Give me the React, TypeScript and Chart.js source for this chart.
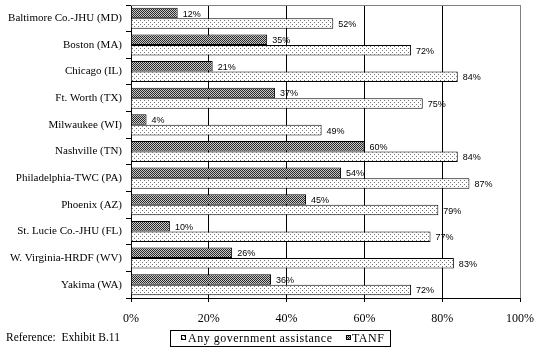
import React, { useEffect, useRef } from "react";
import { Chart, registerables } from "chart.js";

Chart.register(...registerables);

const categories = [
  "Baltimore Co.-JHU (MD)",
  "Boston (MA)",
  "Chicago (IL)",
  "Ft. Worth (TX)",
  "Milwaukee (WI)",
  "Nashville (TN)",
  "Philadelphia-TWC (PA)",
  "Phoenix (AZ)",
  "St. Lucie Co.-JHU (FL)",
  "W. Virginia-HRDF (WV)",
  "Yakima (WA)",
];
const tanfValues = [12, 35, 21, 37, 4, 60, 54, 45, 10, 26, 36];
const anyAssistValues = [52, 72, 84, 75, 49, 84, 87, 79, 77, 83, 72];
const xTicks = [0, 20, 40, 60, 80, 100];
const seriesNames = ["Any government assistance", "TANF"];
const footnote = "Reference:  Exhibit B.11";

const SERIF = "'Liberation Serif', 'Times New Roman', serif";

function makePattern(kind: "dark" | "light"): CanvasPattern | string {
  const c = document.createElement("canvas");
  const ctx = c.getContext("2d");
  if (!ctx) return kind === "dark" ? "#808080" : "#eeeeee";
  if (kind === "dark") {
    c.width = 2;
    c.height = 2;
    ctx.fillStyle = "#c8c8c8";
    ctx.fillRect(0, 0, 2, 2);
    ctx.fillStyle = "#2a2a2a";
    ctx.fillRect(0, 0, 1, 1);
    ctx.fillRect(1, 1, 1, 1);
  } else {
    c.width = 4;
    c.height = 4;
    ctx.fillStyle = "#ffffff";
    ctx.fillRect(0, 0, 4, 4);
    ctx.fillStyle = "#707070";
    ctx.fillRect(0, 0, 1, 1);
    ctx.fillRect(2, 2, 1, 1);
  }
  return ctx.createPattern(c, "repeat") || "#999";
}

export default function App() {
  const ref = useRef<HTMLCanvasElement>(null);

  useEffect(() => {
    if (!ref.current) return;
    const darkPat = makePattern("dark");
    const lightPat = makePattern("light");

    const extras = {
      id: "extras",
      afterDatasetsDraw(chart: any) {
        const ctx = chart.ctx;
        const area = chart.chartArea;
        ctx.save();
        // gray top border
        ctx.strokeStyle = "#808080";
        ctx.lineWidth = 1;
        ctx.beginPath();
        ctx.moveTo(area.left, area.top + 0.5);
        ctx.lineTo(area.right + 0.5, area.top + 0.5);
        ctx.stroke();
        // data labels
        ctx.fillStyle = "#000";
        ctx.font = "9px 'Liberation Sans Narrow', 'Liberation Sans', Arial, sans-serif";
        ctx.textBaseline = "middle";
        ctx.textAlign = "left";
        chart.data.datasets.forEach((ds: any, di: number) => {
          const meta = chart.getDatasetMeta(di);
          meta.data.forEach((bar: any, i: number) => {
            ctx.fillText(ds.data[i] + "%", bar.x + 5, bar.y + 1);
          });
        });
        ctx.restore();
      },
      afterDraw(chart: any) {
        const ctx = chart.ctx;
        ctx.save();
        // footnote
        ctx.fillStyle = "#000";
        ctx.font = "11.5px " + SERIF;
        ctx.textBaseline = "middle";
        ctx.textAlign = "left";
        ctx.fillText(footnote, 6, 338);
        // legend box
        const bx = 170.5, by = 330.5, bw = 220, bh = 16;
        ctx.fillStyle = "#fff";
        ctx.fillRect(bx, by, bw, bh);
        ctx.strokeStyle = "#000";
        ctx.lineWidth = 1;
        ctx.strokeRect(bx, by, bw, bh);
        ctx.font = "12px " + SERIF;
        (ctx as any).letterSpacing = "0.5px";
        const items = [
          { x: 181, tx: 188, fill: lightPat, label: seriesNames[0] },
          { x: 346, tx: 352, fill: darkPat, label: seriesNames[1] },
        ];
        items.forEach((it) => {
          ctx.fillStyle = it.fill as any;
          ctx.fillRect(it.x, 335, 5, 5);
          ctx.strokeRect(it.x + 0.5, 335.5, 4, 4);
          ctx.fillStyle = "#000";
          ctx.fillText(it.label, it.tx, 338.5);
        });
        (ctx as any).letterSpacing = "0px";
        ctx.restore();
      },
    };

    const chart = new Chart(ref.current, {
      type: "bar",
      data: {
        labels: categories,
        datasets: [
          {
            label: seriesNames[1],
            data: tanfValues,
            backgroundColor: darkPat as any,
            borderColor: "#000",
            borderWidth: 1,
            categoryPercentage: 0.79,
            barPercentage: 1,
          },
          {
            label: seriesNames[0],
            data: anyAssistValues,
            backgroundColor: lightPat as any,
            borderColor: "#000",
            borderWidth: 1,
            categoryPercentage: 0.79,
            barPercentage: 1,
          },
        ],
      },
      options: {
        indexAxis: "y",
        animation: false,
        responsive: false,
        devicePixelRatio: 1,
        layout: { padding: { top: 5, right: 19, left: 0, bottom: 0 } },
        plugins: {
          legend: { display: false },
          tooltip: { enabled: false },
        },
        scales: {
          x: {
            min: 0,
            max: 100,
            afterBuildTicks: (scale: any) => {
              scale.ticks = xTicks.map((v) => ({ value: v }));
            },
            afterFit: (scale: any) => {
              scale.height = 55;
              scale.paddingLeft = 0;
              scale.paddingRight = 0;
            },
            ticks: {
              callback: (v: any) => v + "%",
              color: "#000",
              font: { family: SERIF, size: 12 },
              padding: 10,
              maxRotation: 0,
            },
            grid: {
              color: (c: any) => (c.tick && c.tick.value === 100 ? "#808080" : "#000"),
              tickColor: "#000",
              tickLength: 4,
            },
            border: { color: "#000" },
          },
          y: {
            afterFit: (scale: any) => {
              scale.width = 131;
              scale.paddingTop = 0;
              scale.paddingBottom = 0;
            },
            ticks: {
              color: "#000",
              font: { family: SERIF, size: 11 },
              padding: 4,
            },
            grid: {
              drawOnChartArea: false,
              tickColor: "#000",
              tickLength: 5,
              offset: true,
            },
            border: { color: "#000" },
          },
        },
      },
      plugins: [extras],
    });
    return () => chart.destroy();
  }, []);

  return (
    <div style={{ position: "absolute", left: 0, top: 0, width: 539, height: 353, background: "#fff" }}>
      <canvas ref={ref} width={539} height={353} />
    </div>
  );
}
